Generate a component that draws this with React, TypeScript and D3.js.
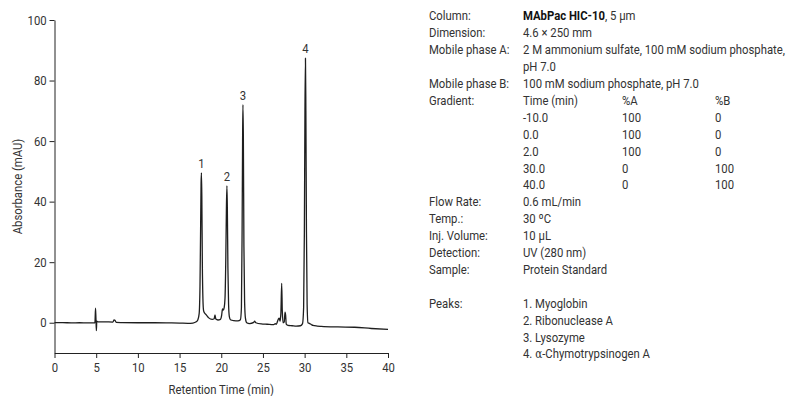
import React, { useRef, useEffect } from "react";
import * as d3 from "d3";

// chromatogram trace: [time (min), absorbance (mAU)]
const trace: [number, number][] = [
  [0, 0], [1, 0.05], [2, -0.05], [3, 0], [4, -0.05], [4.85, 0], [4.92, 4.8], [4.97, 1.5],
  [5.02, -2.6], [5.07, 0.5], [5.2, 0.3], [6, 0.3], [7, 0.2], [7.15, 0.9], [7.25, 0.8],
  [7.4, 0.1], [8, 0.05], [10, 0], [12, 0], [14, -0.05], [15, -0.1], [16, -0.2], [16.6, -0.1],
  [17.0, 0.3], [17.2, 1], [17.35, 3], [17.45, 12], [17.52, 30], [17.58, 46], [17.62, 49.5],
  [17.67, 42], [17.73, 20], [17.8, 8], [17.88, 4], [18.0, 3.2], [18.2, 2.6], [18.5, 1.6],
  [18.9, 1.1], [19.15, 1.3], [19.25, 2.6], [19.35, 1.2], [19.6, 0.9], [19.9, 1.1],
  [20.05, 2.5], [20.15, 4.6], [20.25, 4.2], [20.35, 5], [20.45, 8], [20.55, 22], [20.62, 38],
  [20.68, 45.2], [20.73, 38], [20.8, 18], [20.88, 6], [20.97, 2], [21.1, 1], [21.5, 0.7],
  [22, 0.6], [22.3, 1], [22.42, 5], [22.5, 30], [22.56, 60], [22.6, 72], [22.65, 62],
  [22.72, 25], [22.8, 7], [22.9, 1.5], [23.05, 0], [23.4, -0.3], [23.9, 0.1], [24.0, 0.5],
  [24.15, 0], [24.8, -0.4], [25.5, -0.5], [26.3, -0.6], [26.5, -0.3], [26.6, -0.5],
  [26.85, 1.2], [26.95, 1.5], [27.05, 0.5], [27.15, 3], [27.25, 13], [27.32, 4], [27.42, 0],
  [27.55, 0.2], [27.65, 3.5], [27.72, 2.5], [27.8, -0.5], [28, -0.9], [28.5, -1], [29, -1.1],
  [29.5, -1.0], [29.75, -0.3], [29.88, 5], [29.97, 30], [30.04, 70], [30.1, 87.4],
  [30.15, 70], [30.22, 30], [30.3, 6], [30.4, 0], [30.55, -0.2], [30.8, -0.6], [31, -0.9],
  [31.5, -1.1], [32, -1.2], [34, -1.4], [36, -1.5], [38, -1.9], [40, -2.2],
];

const peakLabels = ["1", "2", "3", "4"];
const peakTimes = [17.62, 20.68, 22.6, 30.1];
const peakHeights = [49.5, 45.2, 72, 87.4];

const xTicks = [0, 5, 10, 15, 20, 25, 30, 35, 40];
const yTicks = [0, 20, 40, 60, 80, 100];

// conditions block
const condLabels = ["Column:", "Dimension:", "Mobile phase A:", "", "Mobile phase B:", "Gradient:"];
const condValues = [
  "",
  "4.6 × 250 mm",
  "2 M ammonium sulfate, 100 mM sodium phosphate,",
  "pH 7.0",
  "100 mM sodium phosphate, pH 7.0",
  "",
];
const gradHeader = ["Time (min)", "%A", "%B"];
const gradTime = ["-10.0", "0.0", "2.0", "30.0", "40.0"];
const gradA = ["100", "100", "100", "0", "0"];
const gradB = ["0", "0", "0", "100", "100"];
const runLabels = ["Flow Rate:", "Temp.:", "Inj. Volume:", "Detection:", "Sample:"];
const runValues = ["0.6 mL/min", "30 ºC", "10 µL", "UV (280 nm)", "Protein Standard"];
const peakNames = ["1. Myoglobin", "2. Ribonuclease A", "3. Lysozyme", "-Chymotrypsinogen A"];

const FONT = "Roboto, sans-serif";
const SQ = 0.87; // horizontal squeeze to mimic a condensed face

function App() {
  const svgRef = useRef<SVGSVGElement>(null);

  useEffect(() => {
    const width = 790;
    const height = 396;
    const svg = d3.select(svgRef.current).attr("width", width).attr("height", height);
    svg.selectAll("*").remove();

    const x = d3.scaleLinear().domain([0, 40]).range([54.5, 388]);
    const y = d3.scaleLinear().domain([-10, 100]).range([353, 20]);

    const textColor = "#333";

    // axes
    const xAxis = svg.append("g")
      .attr("transform", `translate(0, ${y(-10)})`)
      .call(d3.axisBottom(x).tickValues(xTicks).tickSize(5).tickSizeOuter(0).tickPadding(5));
    const yAxis = svg.append("g")
      .attr("transform", `translate(${x(0)}, 0)`)
      .call(d3.axisLeft(y).tickValues(yTicks).tickSize(5).tickSizeOuter(0).tickPadding(4));

    [xAxis, yAxis].forEach((g) => {
      g.selectAll("text")
        .attr("font-family", FONT)
        .attr("font-size", 13)
        .attr("fill", textColor)
        .attr("transform", `scale(${SQ},1)`);
      g.selectAll("line,path").attr("stroke", "#222");
    });

    // axis labels
    svg.append("text")
      .attr("transform", `translate(${(x(0) + x(40)) / 2}, 394) scale(${SQ},1)`)
      .attr("text-anchor", "middle")
      .attr("font-family", FONT)
      .attr("font-size", 13)
      .attr("fill", textColor)
      .text("Retention Time (min)");

    svg.append("text")
      .attr("transform", `translate(22, ${(y(-10) + y(100)) / 2}) rotate(-90) scale(${SQ},1)`)
      .attr("text-anchor", "middle")
      .attr("font-family", FONT)
      .attr("font-size", 13)
      .attr("fill", textColor)
      .text("Absorbance (mAU)");

    // trace
    const line = d3.line<[number, number]>()
      .x((d) => x(d[0]))
      .y((d) => y(d[1]))
      .curve(d3.curveMonotoneX);

    svg.append("path")
      .datum(trace)
      .attr("d", line)
      .attr("fill", "none")
      .attr("stroke", "#1e1e1e")
      .attr("stroke-width", 1.3)
      .attr("stroke-linejoin", "round");

    // peak numbers
    svg.append("g")
      .selectAll("text")
      .data(peakLabels)
      .enter()
      .append("text")
      .attr("transform", (d, i) => `translate(${x(peakTimes[i])}, ${y(peakHeights[i]) - 5}) scale(${SQ},1)`)
      .attr("text-anchor", "middle")
      .attr("font-family", FONT)
      .attr("font-size", 13)
      .attr("fill", textColor)
      .text((d) => d);

    // conditions text, drawn in a squeezed group
    const info = svg.append("g")
      .attr("transform", `scale(${SQ},1)`)
      .attr("font-family", FONT)
      .attr("font-size", 13)
      .attr("fill", textColor);

    const sx = (px: number) => px / SQ;
    const labelX = sx(429);
    const valueX = sx(523);
    const colA = sx(622);
    const colB = sx(715);
    const lh = 16.9;
    const y0 = 20.5;

    condLabels.forEach((t, i) => {
      info.append("text").attr("x", labelX).attr("y", y0 + i * lh).text(t);
      info.append("text").attr("x", valueX).attr("y", y0 + i * lh).text(condValues[i]);
    });

    // bold column name
    const colText = info.append("text").attr("x", valueX).attr("y", y0);
    colText.append("tspan").attr("font-weight", "bold").attr("fill", "#111").text("MAbPac HIC-10");
    colText.append("tspan").text(", 5 µm");

    // gradient table
    const gRow = 5;
    [gradHeader].concat(gradTime.map((t, i) => [t, gradA[i], gradB[i]])).forEach((row, i) => {
      const yy = y0 + (gRow + i) * lh;
      info.append("text").attr("x", valueX).attr("y", yy).text(row[0]);
      info.append("text").attr("x", colA).attr("y", yy).text(row[1]);
      info.append("text").attr("x", colB).attr("y", yy).text(row[2]);
    });

    const rRow = gRow + 1 + gradTime.length;
    runLabels.forEach((t, i) => {
      const yy = y0 + (rRow + i) * lh;
      info.append("text").attr("x", labelX).attr("y", yy).text(t);
      info.append("text").attr("x", valueX).attr("y", yy).text(runValues[i]);
    });

    const pRow = rRow + runLabels.length + 1;
    info.append("text").attr("x", labelX).attr("y", y0 + pRow * lh).text("Peaks:");
    peakNames.forEach((t, i) => {
      const yy = y0 + (pRow + i) * lh;
      if (i === 3) {
        const tx = info.append("text").attr("x", valueX).attr("y", yy);
        tx.append("tspan").text("4. ");
        tx.append("tspan").attr("font-family", "'DejaVu Serif', serif").attr("font-size", 12).text("α");
        tx.append("tspan").text(t);
      } else {
        info.append("text").attr("x", valueX).attr("y", yy).text(t);
      }
    });
  }, []);

  return (
    <svg
      ref={svgRef}
      style={{ position: "absolute", left: 0, top: 0, background: "#fff" }}
    ></svg>
  );
}

export default App;
